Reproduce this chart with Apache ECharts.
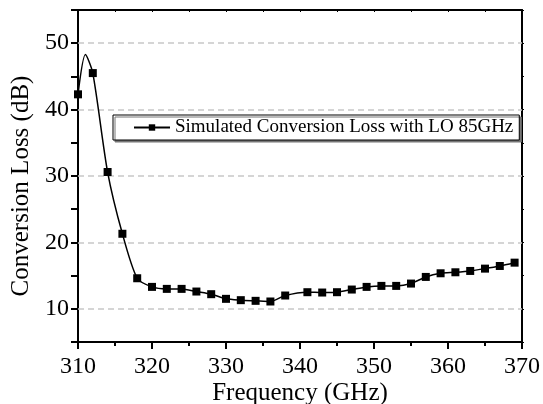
<!DOCTYPE html>
<html>
<head>
<meta charset="utf-8">
<script src="https://cdn.jsdelivr.net/npm/echarts@6/dist/echarts.min.js"></script>
<style>html,body{margin:0;padding:0;background:#fff;}#c{width:543px;height:404px;}</style>
</head>
<body>
<div id="c"></div>
<script>
const seriesName = 'Simulated Conversion Loss with LO 85GHz';
const freqGHz = [310, 311, 312, 314, 316, 318, 320, 322, 324, 326, 328, 330, 332, 334, 336, 338, 341, 343, 345, 347, 349, 351, 353, 355, 357, 359, 361, 363, 365, 367, 369];
const lossDB  = [42.3, 48.3, 45.5, 30.6, 21.3, 14.6, 13.3, 13.0, 13.0, 12.6, 12.2, 11.5, 11.3, 11.2, 11.1, 12.0, 12.5, 12.45, 12.5, 12.9, 13.3, 13.45, 13.45, 13.8, 14.8, 15.35, 15.5, 15.7, 16.05, 16.45, 16.95];
const unmarked = [311];
const xTicks = [310, 320, 330, 340, 350, 360, 370];
const yTicks = [10, 20, 30, 40, 50];
const yMin = 5, yMax = 55;

const FONT = 'Liberation Serif';
const data = freqGHz.map((f, i) => unmarked.includes(f)
  ? { value: [f, lossDB[i]], symbol: 'none' }
  : { value: [f, lossDB[i]] });

const chart = echarts.init(document.getElementById('c'), null, { renderer: 'canvas' });
chart.setOption({
  animation: false,
  backgroundColor: '#fff',
  grid: { left: 78, right: 21, top: 10, bottom: 62, containLabel: false, outerBoundsMode: 'none' },
  legend: {
    data: [seriesName],
    left: 113, top: 115,
    padding: [3, 6, 3, 20],
    itemWidth: 36, itemHeight: 8, itemGap: 0,
    backgroundColor: '#fff',
    borderColor: '#000', borderWidth: 1, borderRadius: 0,
    shadowColor: '#777', shadowBlur: 0, shadowOffsetX: 2, shadowOffsetY: 2,
    textStyle: { fontFamily: FONT, fontSize: 19, color: '#000' }
  },
  xAxis: [{
    type: 'value', min: xTicks[0], max: xTicks[xTicks.length - 1], interval: 10,
    position: 'bottom',
    name: 'Frequency (GHz)', nameLocation: 'middle', nameGap: 39, nameMoveOverlap: false,
    nameTextStyle: { fontFamily: FONT, fontSize: 25, color: '#000' },
    axisLine: { lineStyle: { color: '#000', width: 2 } },
    axisTick: { inside: false, length: 7, lineStyle: { color: '#000', width: 2 } },
    minorTick: { show: true, splitNumber: 2, length: 4, lineStyle: { color: '#000', width: 2 } },
    axisLabel: { fontFamily: FONT, fontSize: 24, color: '#000', margin: 13 },
    splitLine: { show: false }
  }, {
    type: 'value', min: xTicks[0], max: xTicks[xTicks.length - 1], interval: 10,
    position: 'top',
    axisLine: { lineStyle: { color: '#000', width: 2 } },
    axisTick: { inside: true, length: 2, lineStyle: { color: '#000', width: 1 } },
    minorTick: { show: true, splitNumber: 2, length: 2, lineStyle: { color: '#000', width: 1 } },
    axisLabel: { show: false },
    splitLine: { show: false }
  }],
  yAxis: [{
    type: 'value', min: yMin, max: yMax, interval: 5,
    position: 'left',
    name: 'Conversion Loss (dB)', nameLocation: 'middle', nameGap: 44, nameMoveOverlap: false,
    nameTextStyle: { fontFamily: FONT, fontSize: 25, color: '#000', padding: [0, 20, 0, 0] },
    axisLine: { lineStyle: { color: '#000', width: 2 } },
    axisTick: { inside: false, length: 7, lineStyle: { color: '#000', width: 2 } },
    axisLabel: {
      fontFamily: FONT, fontSize: 24, color: '#000', margin: 9,
      formatter: v => (yTicks.includes(v) ? String(v) : '')
    },
    splitLine: { show: false }
  }, {
    type: 'value', min: yMin, max: yMax, interval: 5,
    position: 'right',
    axisLine: { lineStyle: { color: '#000', width: 2 } },
    axisTick: { inside: false, length: 2, lineStyle: { color: '#000', width: 1 } },
    axisLabel: { show: false },
    splitLine: { show: false }
  }],
  series: [{
    name: seriesName,
    type: 'line',
    xAxisIndex: 0, yAxisIndex: 0,
    data: data,
    smooth: 0.25,
    symbol: 'rect', symbolSize: 8,
    itemStyle: { color: '#000' },
    lineStyle: { color: '#000', width: 1.5 },
    z: 3,
    markLine: {
      silent: true, symbol: 'none', z: 1,
      label: { show: false },
      lineStyle: { color: '#c8c8c8', type: [6, 4], width: 1.5 },
      emphasis: { disabled: true },
      data: yTicks.map(v => ({ yAxis: v }))
    }
  }]
});
</script>
</body>
</html>
